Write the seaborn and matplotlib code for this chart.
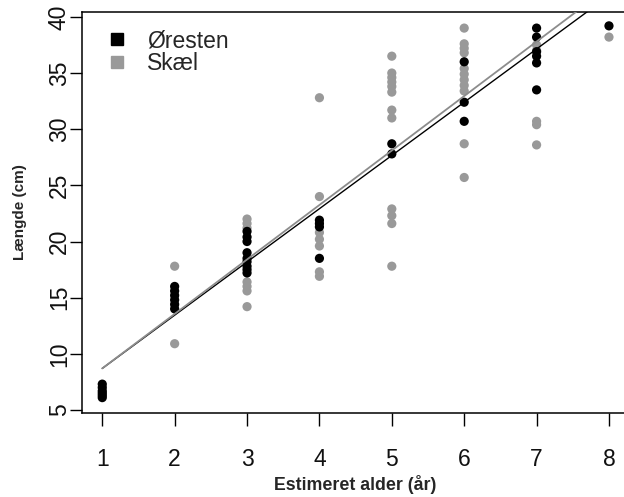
import numpy as np
import pandas as pd
import seaborn as sns
import matplotlib.pyplot as plt
from matplotlib.lines import Line2D

plt.switch_backend('Agg')

# Øresten (otolith) readings: estimated age (years) and length (cm)
oresten_alder = [1, 1, 1, 1, 1, 1,
                 2, 2, 2, 2, 2, 2,
                 3, 3, 3, 3, 3, 3, 3, 3, 3,
                 4, 4, 4, 4,
                 5, 5,
                 6, 6, 6,
                 7, 7, 7, 7, 7, 7,
                 8]
oresten_laengde = [7.3, 7.0, 6.7, 6.5, 6.3, 6.1,
                   16.0, 15.6, 15.2, 14.8, 14.4, 14.0,
                   20.9, 20.4, 20.0, 19.0, 18.5, 18.2, 17.8, 17.5, 17.2,
                   21.9, 21.6, 21.3, 18.5,
                   28.7, 27.8,
                   36.0, 32.4, 30.7,
                   39.0, 38.2, 36.9, 36.5, 35.9, 33.5,
                   39.2]

# scale (skæl) readings
skael_alder = [2, 2,
               3, 3, 3, 3, 3, 3, 3,
               4, 4, 4, 4, 4, 4, 4,
               5, 5, 5, 5, 5, 5, 5, 5, 5, 5, 5, 5,
               6, 6, 6, 6, 6, 6, 6, 6, 6, 6, 6,
               7, 7, 7, 7, 7,
               8]
skael_laengde = [17.8, 10.9,
                 22.0, 21.6, 21.2, 16.4, 16.0, 15.6, 14.2,
                 32.8, 24.0, 20.8, 20.2, 19.6, 17.3, 16.9,
                 36.5, 35.0, 34.6, 34.2, 33.8, 33.3, 31.7, 31.0, 22.9, 22.3, 21.6, 17.8,
                 39.0, 37.6, 37.2, 36.8, 35.4, 34.9, 34.4, 33.9, 33.4, 28.7, 25.7,
                 37.5, 37.0, 30.7, 30.4, 28.6,
                 38.2]

# fitted lines (intercept, slope)
oresten_fit = (3.96, 4.74)
skael_fit = (3.85, 4.85)
fit_range = [1, 8]

labels = ["Øresten", "Skæl"]
colors = {"Øresten": "#000000", "Skæl": "#999999"}

df = pd.concat([
    pd.DataFrame({"alder": skael_alder, "laengde": skael_laengde, "metode": "Skæl"}),
    pd.DataFrame({"alder": oresten_alder, "laengde": oresten_laengde, "metode": "Øresten"}),
], ignore_index=True)

sns.set_style("white")
plt.rcParams["font.family"] = ["Liberation Sans", "DejaVu Sans"]

fig = plt.figure(figsize=(6.24, 4.97), dpi=100)
ax = fig.add_axes([0.1314, 0.169, 0.877, 0.807])

sns.scatterplot(data=df, x="alder", y="laengde", hue="metode", palette=colors,
                s=44, linewidth=0, legend=False, ax=ax, zorder=2)

xs = np.array(fit_range)
ax.plot(xs, oresten_fit[0] + oresten_fit[1] * xs, color="#000000", lw=1.0, zorder=3)
ax.plot(xs, skael_fit[0] + skael_fit[1] * xs, color="#8c8c8c", lw=1.3, zorder=4)

ax.set_xlim(0.72, 8.28)
ax.set_ylim(4.73, 40.44)
ax.set_xticks(range(1, 9))
ax.set_yticks(range(5, 41, 5))

for s in ax.spines.values():
    s.set_color("#000000")
    s.set_linewidth(1.1)

ax.tick_params(axis="both", direction="out", length=9, width=1.0, color="#000000",
               labelsize=16.5, labelcolor="#111111", bottom=True, left=True)
ax.tick_params(axis="x", pad=16)
ax.tick_params(axis="y", pad=-1, labelrotation=90)
for lab in ax.get_yticklabels():
    lab.set_va("center")

ax.set_xlabel("Estimeret alder (år)", fontsize=12.8, fontweight="bold", labelpad=3)
ax.set_ylabel("Længde (cm)", fontsize=11, fontweight="bold", labelpad=15)

handles = [Line2D([], [], marker="s", linestyle="", markersize=9,
                  markerfacecolor=colors[m], markeredgecolor=colors[m]) for m in labels]
ax.legend(handles, labels, loc="upper left", bbox_to_anchor=(0.006, 1.008),
          frameon=False, fontsize=16.5, handlelength=1.0, handletextpad=0.8,
          labelspacing=0.0, borderpad=0.4)

fig.savefig("out.png", dpi=100)
